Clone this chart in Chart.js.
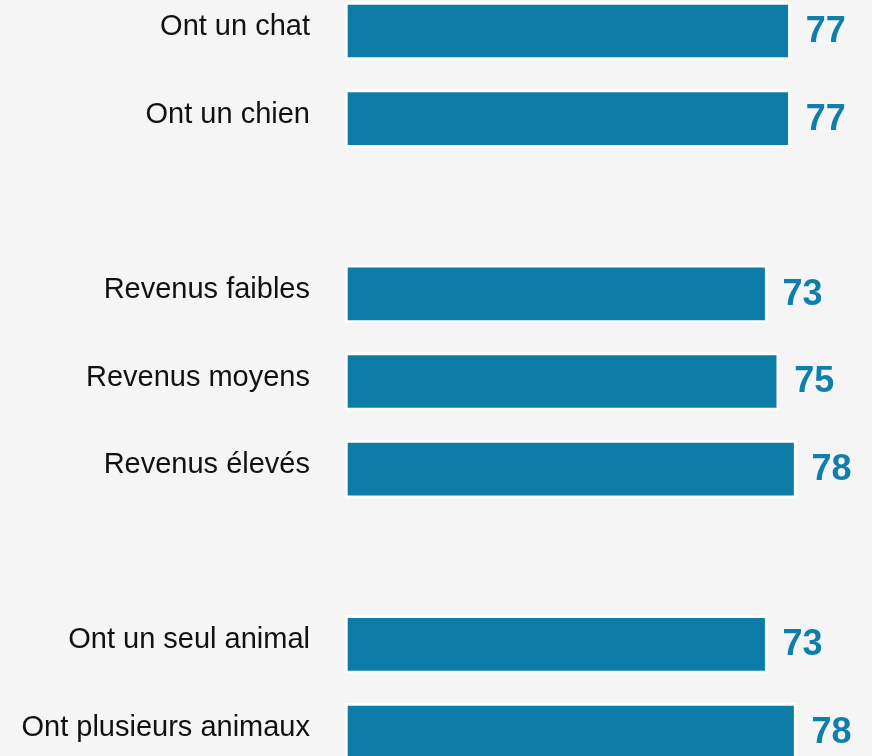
<!DOCTYPE html>
<html>
<head>
<meta charset="utf-8">
<script src="https://cdn.jsdelivr.net/npm/chart.js@4"></script>
<style>
  html, body { margin: 0; padding: 0; background: #f5f5f5; }
  #wrap { width: 872px; height: 756px; position: relative; }
</style>
</head>
<body>
<div id="wrap"><canvas id="bars"></canvas></div>
<script>
    // Data
    var categories = ["Ont un chat", "Ont un chien", "", "Revenus faibles", "Revenus moyens", "Revenus élevés", "", "Ont un seul animal", "Ont plusieurs animaux"];
    var values = [77, 77, null, 73, 75, 78, null, 73, 78];
    var xMin = 0;
    var xMax = 90;

    var barColor = "#0d7da8";
    var valueColor = "#0f7eab";

    // Value labels at the end of each bar
    var valueLabels = {
        id: "valueLabels",
        afterDatasetsDraw: function (chart) {
            var ctx = chart.ctx;
            var meta = chart.getDatasetMeta(0);
            ctx.save();
            ctx.font = "bold 36px Arial, 'Liberation Sans', sans-serif";
            ctx.fillStyle = valueColor;
            ctx.textAlign = "left";
            ctx.textBaseline = "middle";
            meta.data.forEach(function (bar, i) {
                if (values[i] === null) return;
                ctx.fillText(String(values[i]), bar.x + 15, bar.y + 1);
            });
            ctx.restore();
        }
    };

    var ctx = document.getElementById("bars").getContext("2d");
    var myChart = new Chart(ctx, {
        type: "bar",
        data: {
            labels: categories,
            datasets: [{
                data: values,
                backgroundColor: barColor,
                borderColor: "#ffffff",
                borderWidth: 3,
                borderSkipped: false,
                borderRadius: 2,
                barThickness: 58,
                clip: false
            }]
        },
        options: {
            indexAxis: "y",
            responsive: true,
            maintainAspectRatio: false,
            animation: false,
            layout: {
                padding: { top: 31, bottom: 24, left: 0, right: 6 }
            },
            plugins: {
                legend: { display: false },
                tooltip: { enabled: false }
            },
            scales: {
                x: {
                    display: false,
                    min: xMin,
                    max: xMax
                },
                y: {
                    offset: false,
                    border: { display: false },
                    grid: { display: false, drawTicks: false },
                    ticks: {
                        padding: 35,
                        labelOffset: -4,
                        color: "#111111",
                        font: { family: "Arial, 'Liberation Sans', sans-serif", size: 29 }
                    },
                    afterFit: function (scale) {
                        scale.width = 345;
                        scale.paddingTop = 0;
                        scale.paddingBottom = 0;
                    }
                }
            }
        },
        plugins: [valueLabels]
    });
</script>
</body>
</html>
